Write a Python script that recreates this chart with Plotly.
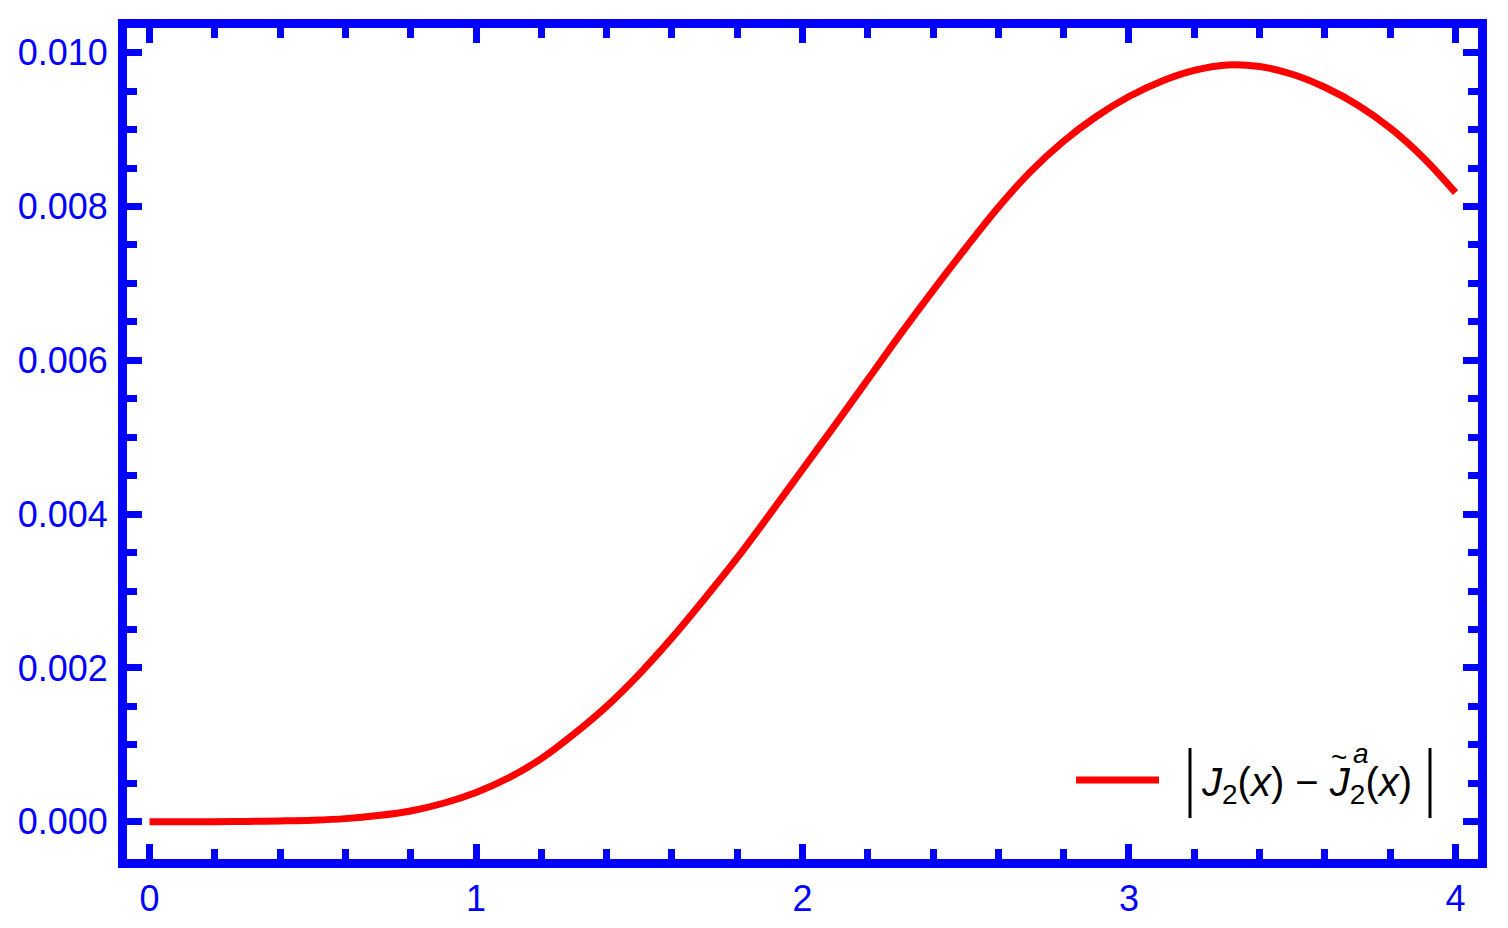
import plotly.graph_objects as go

# |J2(x) - J2~a(x)|
x_vals = [0.0, 0.1, 0.2, 0.3, 0.4, 0.5, 0.6, 0.7, 0.8, 0.9,
          1.0, 1.1, 1.2, 1.3, 1.4, 1.5, 1.6, 1.7, 1.8, 1.9,
          2.0, 2.1, 2.2, 2.3, 2.4, 2.5, 2.6, 2.7, 2.8, 2.9,
          3.0, 3.1, 3.2, 3.3, 3.4, 3.5, 3.6, 3.7, 3.8, 3.9, 4.0]
err_vals = [0.0, 0.0, 0.000001, 0.000004, 0.00001, 0.00002, 0.00004, 0.00008, 0.00014, 0.00024,
            0.00038, 0.00057, 0.00082, 0.00114, 0.00150, 0.00192, 0.00239, 0.00290, 0.00343, 0.00400,
            0.00458, 0.00516, 0.00575, 0.00634, 0.00691, 0.00746, 0.00799, 0.00846, 0.00885, 0.00917,
            0.00943, 0.00963, 0.00977, 0.00984, 0.00982, 0.00972, 0.00955, 0.00932, 0.00902, 0.00864,
            0.00818]

x_ticks = [0, 1, 2, 3, 4]
y_ticks = [0.000, 0.002, 0.004, 0.006, 0.008, 0.010]

BLUE = "#0000ff"
RED = "#ff0000"
FONT = "Liberation Sans, Arial, sans-serif"

fig = go.Figure()
fig.add_trace(go.Scatter(
    x=x_vals, y=err_vals, mode="lines",
    line=dict(color=RED, width=7, shape="spline", smoothing=1.0),
    showlegend=False,
))

# ticks start at the middle of the thick frame line, so they are longer than they look
axis_common = dict(
    showline=True, linewidth=9, linecolor=BLUE, mirror="allticks",
    ticks="inside", tickcolor=BLUE, tickwidth=7, ticklen=15,
    showgrid=False, zeroline=False, automargin=False,
    tickfont=dict(family=FONT, size=36, color=BLUE),
)

# page body has an 8px margin, so the figure is a bit smaller than the window
fig.update_layout(
    width=1492, height=912,
    plot_bgcolor="white", paper_bgcolor="white",
    margin=dict(l=119, r=22, t=20, b=61),
    xaxis=dict(range=[-0.069, 4.069], tickvals=x_ticks,
               minor=dict(dtick=0.2, ticks="inside", ticklen=10, tickwidth=7, tickcolor=BLUE),
               **axis_common),
    yaxis=dict(range=[-0.000485, 0.010321], tickvals=y_ticks, tickformat=".3f",
               ticklabelstandoff=3,
               minor=dict(dtick=0.0005, ticks="inside", ticklen=10, tickwidth=7, tickcolor=BLUE),
               **axis_common),
)


# legend drawn by hand (paper coords, from screen pixels of the plot area)
def px(p):
    return (p - 127) / 1351


def py(p):
    return (859 - p) / 831


fig.add_shape(type="line", xref="paper", yref="paper",
              x0=px(1076), x1=px(1159), y0=py(780), y1=py(780),
              line=dict(color=RED, width=7))
for bx in (1190, 1430):
    fig.add_shape(type="line", xref="paper", yref="paper",
                  x0=px(bx), x1=px(bx), y0=py(818), y1=py(748),
                  line=dict(color="black", width=3))

LEG_FONT = dict(family=FONT, size=40, color="black")
fig.add_annotation(xref="paper", yref="paper", x=px(1199), y=py(785),
                   xanchor="left", yanchor="middle", showarrow=False,
                   text="<i>J</i><sub>2</sub>(<i>x</i>) \u2212 <i>J</i><sub>2</sub>(<i>x</i>)",
                   font=LEG_FONT)
fig.add_annotation(xref="paper", yref="paper", x=px(1339), y=py(757),
                   xanchor="center", yanchor="middle", showarrow=False,
                   text="~", font=dict(family=FONT, size=28, color="black"))
fig.add_annotation(xref="paper", yref="paper", x=px(1361), y=py(753),
                   xanchor="center", yanchor="middle", showarrow=False,
                   text="<i>a</i>", font=dict(family=FONT, size=28, color="black"))

fig.write_html("out.html")
